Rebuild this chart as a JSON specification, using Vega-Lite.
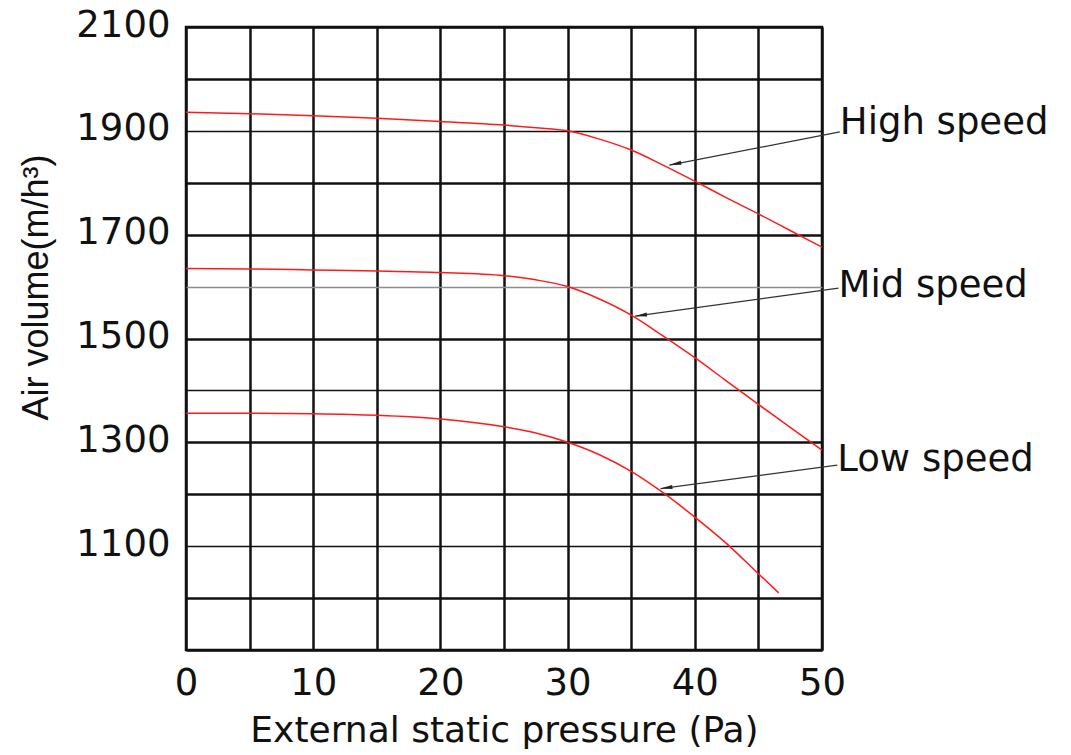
{
  "$schema": "https://vega.github.io/schema/vega-lite/v6.json",
  "width": 636,
  "height": 623,
  "autosize": {"type": "none"},
  "padding": {"left": 186, "top": 27, "right": 249, "bottom": 105},
  "background": "white",
  "config": {"view": {"stroke": "#111", "strokeWidth": 2.5}, "font": "DejaVu Sans"},
  "datasets": {
    "curves": [
      {"speed": "High speed", "pressure": 0, "airflow": 1936},
      {"speed": "High speed", "pressure": 5, "airflow": 1933},
      {"speed": "High speed", "pressure": 10, "airflow": 1929},
      {"speed": "High speed", "pressure": 15, "airflow": 1924},
      {"speed": "High speed", "pressure": 20, "airflow": 1918},
      {"speed": "High speed", "pressure": 25, "airflow": 1911},
      {"speed": "High speed", "pressure": 27.5, "airflow": 1906},
      {"speed": "High speed", "pressure": 30, "airflow": 1900},
      {"speed": "High speed", "pressure": 32.5, "airflow": 1884},
      {"speed": "High speed", "pressure": 35, "airflow": 1863},
      {"speed": "High speed", "pressure": 37.5, "airflow": 1834},
      {"speed": "High speed", "pressure": 40, "airflow": 1803},
      {"speed": "High speed", "pressure": 42.5, "airflow": 1771},
      {"speed": "High speed", "pressure": 45, "airflow": 1740},
      {"speed": "High speed", "pressure": 47.5, "airflow": 1708},
      {"speed": "High speed", "pressure": 50, "airflow": 1676},
      {"speed": "Mid speed", "pressure": 0, "airflow": 1635},
      {"speed": "Mid speed", "pressure": 5, "airflow": 1634},
      {"speed": "Mid speed", "pressure": 10, "airflow": 1632},
      {"speed": "Mid speed", "pressure": 15, "airflow": 1630},
      {"speed": "Mid speed", "pressure": 20, "airflow": 1627},
      {"speed": "Mid speed", "pressure": 25, "airflow": 1621},
      {"speed": "Mid speed", "pressure": 27.5, "airflow": 1613},
      {"speed": "Mid speed", "pressure": 30, "airflow": 1600},
      {"speed": "Mid speed", "pressure": 32.5, "airflow": 1576},
      {"speed": "Mid speed", "pressure": 35, "airflow": 1545},
      {"speed": "Mid speed", "pressure": 37.5, "airflow": 1505},
      {"speed": "Mid speed", "pressure": 40, "airflow": 1463},
      {"speed": "Mid speed", "pressure": 42.5, "airflow": 1418},
      {"speed": "Mid speed", "pressure": 45, "airflow": 1373},
      {"speed": "Mid speed", "pressure": 47.5, "airflow": 1329},
      {"speed": "Mid speed", "pressure": 50, "airflow": 1285},
      {"speed": "Low speed", "pressure": 0, "airflow": 1356},
      {"speed": "Low speed", "pressure": 5, "airflow": 1356},
      {"speed": "Low speed", "pressure": 10, "airflow": 1355},
      {"speed": "Low speed", "pressure": 15, "airflow": 1352},
      {"speed": "Low speed", "pressure": 20, "airflow": 1345},
      {"speed": "Low speed", "pressure": 25, "airflow": 1330},
      {"speed": "Low speed", "pressure": 27.5, "airflow": 1318},
      {"speed": "Low speed", "pressure": 30, "airflow": 1300},
      {"speed": "Low speed", "pressure": 32.5, "airflow": 1276},
      {"speed": "Low speed", "pressure": 35, "airflow": 1244},
      {"speed": "Low speed", "pressure": 37.5, "airflow": 1203},
      {"speed": "Low speed", "pressure": 40, "airflow": 1156},
      {"speed": "Low speed", "pressure": 42.5, "airflow": 1105},
      {"speed": "Low speed", "pressure": 45, "airflow": 1047},
      {"speed": "Low speed", "pressure": 46.6, "airflow": 1010}
    ],
    "labels": [
      {"text": "High speed", "pressure": 51.4, "airflow": 1915},
      {"text": "Mid speed", "pressure": 51.3, "airflow": 1601},
      {"text": "Low speed", "pressure": 51.2, "airflow": 1266}
    ],
    "arrows": [
      {"speed": "High speed", "x1": 51.4, "y1": 1898, "x2": 38.0, "y2": 1834},
      {"speed": "Mid speed", "x1": 51.3, "y1": 1597, "x2": 35.3, "y2": 1543},
      {"speed": "Low speed", "x1": 51.2, "y1": 1256, "x2": 37.3, "y2": 1211}
    ]
  },
  "layer": [
    {
      "data": {"name": "curves"},
      "mark": {"type": "line", "color": "#ff1a1a", "strokeWidth": 1.5, "interpolate": "monotone"},
      "encoding": {
        "x": {
          "field": "pressure",
          "type": "quantitative",
          "scale": {"domain": [0, 50], "nice": false, "zero": false},
          "axis": {
            "values": [0, 5, 10, 15, 20, 25, 30, 35, 40, 45, 50],
            "labelExpr": "datum.value % 10 === 0 ? datum.label : ''",
            "title": "External static pressure (Pa)",
            "grid": true,
            "gridColor": "#111",
            "gridWidth": 2.5,
            "gridOpacity": 1,
            "ticks": false,
            "tickSize": 0,
            "domain": false,
            "labelFont": "DejaVu Sans",
            "labelFontSize": 37,
            "labelColor": "#111",
            "labelPadding": 15,
            "labelFlush": false,
            "labelOverlap": false,
            "titleFont": "DejaVu Sans",
            "titleFontSize": 36,
            "titleFontWeight": "normal",
            "titleColor": "#111",
            "titlePadding": 12
          }
        },
        "y": {
          "field": "airflow",
          "type": "quantitative",
          "scale": {"domain": [900, 2100], "nice": false, "zero": false},
          "axis": {
            "values": [900, 1000, 1100, 1200, 1300, 1400, 1500, 1600, 1700, 1800, 1900, 2000, 2100],
            "format": "d",
            "labelExpr": "datum.value % 200 === 100 && datum.value > 1000 ? datum.label : ''",
            "title": "Air volume(m/h³)",
            "grid": true,
            "gridColor": {"condition": {"test": "datum.value === 1600", "value": "#8c8c8c"}, "value": "#111"},
            "gridWidth": {"condition": {"test": "indexof([1100, 1400, 1600, 1900], datum.value) >= 0", "value": 1.3}, "value": 2.5},
            "gridOpacity": 1,
            "ticks": false,
            "tickSize": 0,
            "domain": false,
            "labelFont": "DejaVu Sans",
            "labelFontSize": 37,
            "labelColor": "#111",
            "labelPadding": 16,
            "labelOffset": -2,
            "labelFlush": false,
            "labelOverlap": false,
            "titleFont": "Liberation Sans",
            "titleFontSize": 36,
            "titleFontWeight": "normal",
            "titleColor": "#111",
            "titleAngle": -90,
            "titleAlign": "center",
            "titleBaseline": "middle",
            "titleX": -150,
            "titleY": 260
          }
        },
        "detail": {"field": "speed", "type": "nominal"}
      }
    },
    {
      "data": {"name": "arrows"},
      "mark": {"type": "rule", "color": "#333", "strokeWidth": 1.3},
      "encoding": {
        "x": {"field": "x1", "type": "quantitative"},
        "y": {"field": "y1", "type": "quantitative"},
        "x2": {"field": "x2"},
        "y2": {"field": "y2"}
      }
    },
    {
      "data": {"name": "arrows"},
      "transform": [
        {"calculate": "atan2((datum.x2 - datum.x1) / 50 * width, (datum.y2 - datum.y1) / 1200 * height) * 180 / PI", "as": "heading"}
      ],
      "mark": {"type": "point", "shape": "M0,0L0.35,2L-0.35,2Z", "filled": true, "color": "#222", "opacity": 1, "size": 144},
      "encoding": {
        "x": {"field": "x2", "type": "quantitative"},
        "y": {"field": "y2", "type": "quantitative"},
        "angle": {"field": "heading", "type": "quantitative", "scale": null}
      }
    },
    {
      "data": {"name": "labels"},
      "mark": {"type": "text", "align": "left", "baseline": "middle", "font": "DejaVu Sans", "fontSize": 37, "color": "#111"},
      "encoding": {
        "x": {"field": "pressure", "type": "quantitative"},
        "y": {"field": "airflow", "type": "quantitative"},
        "text": {"field": "text"}
      }
    }
  ]
}
